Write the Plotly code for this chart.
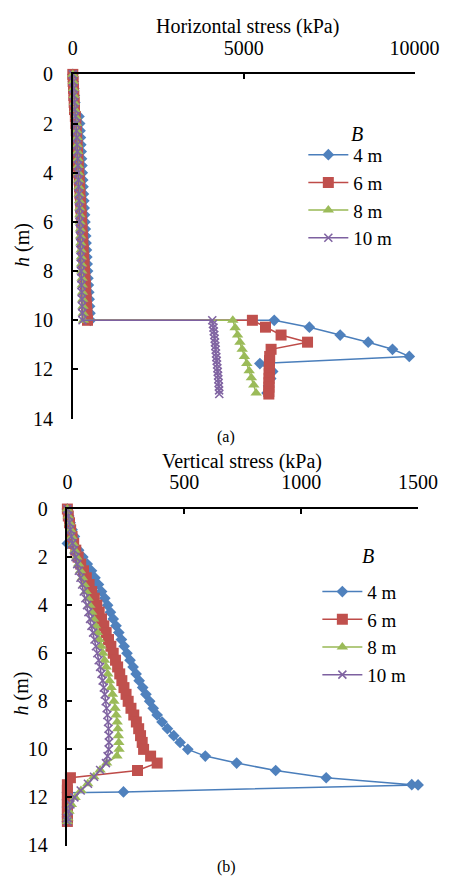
import plotly.graph_objects as go

FONT = "Liberation Serif"
W, H = 463, 888

SERIES = ["4 m", "6 m", "8 m", "10 m"]
LINE_COLORS = ["#4A7EBB", "#BE4B48", "#98B954", "#7D60A0"]
MARKER_COLORS = ["#4F81BD", "#C0504D", "#9BBB59", "#8064A2"]
SYMBOLS = ["diamond", "square", "triangle-up", "x-thin"]
SIZES = [9, 11, 10, 8]

# depth grid above the base (m)
DEPTH_UPPER = [0, 0.29, 0.57, 0.86, 1.14, 1.43, 1.71, 2.0, 2.29, 2.57, 2.86, 3.14,
               3.43, 3.71, 4.0, 4.29, 4.57, 4.86, 5.14, 5.43, 5.71, 6.0, 6.29, 6.57,
               6.86, 7.14, 7.43, 7.71, 8.0, 8.29, 8.57, 8.86, 9.14, 9.43, 9.71, 10.0]

# ---------- (a) Horizontal stress (kPa) ----------
HZ_UP_4 = [0, 15, 30, 45, 60, -100, 180, 200, 212, 223, 234, 245, 256, 267, 278, 289,
           300, 311, 322, 333, 344, 355, 366, 377, 388, 399, 410, 421, 432, 443, 455,
           467, 479, 491, 503, 515]
HZ_UP_6 = [0, 10, 20, 30, 40, 50, 75, 90, 102, 114, 126, 138, 150, 162, 174, 186, 198,
           210, 222, 234, 246, 258, 270, 282, 294, 306, 318, 330, 342, 354, 366, 378,
           390, 402, 414, 430]
HZ_UP_8 = [0, 12, 24, 36, 48, 60, 85, 105, 115, 124, 133, 142, 150, 158, 165, 172, 179,
           186, 193, 200, 207, 214, 221, 228, 235, 242, 249, 256, 263, 270, 277, 284,
           291, 298, 305, 312]
HZ_UP_10 = [0, 10, 20, 30, 40, 50, 75, 95, 108, 118, 128, 136, 144, 152, 159, 166, 173,
            180, 186, 192, 198, 204, 210, 216, 222, 228, 234, 240, 246, 251, 257, 262,
            268, 273, 279, 285]

HZ_LO_DEPTH_4 = [10.0, 10.28, 10.6, 10.89, 11.18, 11.47, 11.76, 12.08, 12.37, 12.66, 12.96]
HZ_LO_4 = [5893, 6921, 7822, 8642, 9353, 9844, 5473, 5847, 5790, 5730, 5683]
HZ_LO_DEPTH_6 = [10.0, 10.28, 10.6, 10.89, 11.18, 11.47, 11.64, 11.82, 12.0, 12.18,
                 12.36, 12.54, 12.72, 12.9, 13.0]
HZ_LO_6 = [5254, 5637, 6093, 6867, 5801, 5760, 5755, 5750, 5748, 5745, 5742, 5740,
           5738, 5735, 5735]
HZ_LO_DEPTH_8 = [10.0, 10.3, 10.6, 10.89, 11.18, 11.47, 11.76, 12.05, 12.34, 12.63, 12.96]
HZ_LO_8 = [4681, 4750, 4820, 4890, 4955, 5020, 5090, 5160, 5225, 5295, 5364]
HZ_LO_DEPTH_10 = [10.0, 10.15, 10.3, 10.45, 10.6, 10.75, 10.9, 11.05, 11.2, 11.35, 11.5,
                  11.65, 11.8, 11.95, 12.1, 12.25, 12.4, 12.55, 12.7, 12.85, 13.0]
HZ_LO_10 = [4080, 4100, 4115, 4125, 4140, 4150, 4160, 4170, 4180, 4190, 4200, 4210,
            4220, 4230, 4240, 4250, 4258, 4266, 4274, 4280, 4285]

# ---------- (b) Vertical stress (kPa) ----------
VT_UP_4 = [0, 6, 12, 20, 30, 0, 48, 66, 85, 103, 118, 133, 146, 160, 172, 184, 196, 208,
           220, 231, 243, 255, 268, 281, 294, 307, 322, 336, 352, 367, 384, 405, 428,
           455, 482, 515]
VT_UP_6 = [0, 4, 9, 14, 20, 27, 36, 46, 57, 69, 81, 93, 104, 115, 126, 136, 146, 156,
           166, 176, 186, 196, 206, 215, 224, 233, 242, 251, 260, 272, 284, 295, 305,
           313, 320, 326]
VT_UP_8 = [0, 4, 9, 14, 19, 25, 32, 40, 48, 56, 64, 72, 80, 88, 96, 104, 112, 120, 128,
           136, 144, 152, 159, 166, 173, 180, 187, 193, 199, 204, 209, 213, 216, 218,
           220, 221]
VT_UP_10 = [0, 4, 8, 12, 17, 22, 28, 35, 42, 49, 56, 63, 70, 77, 84, 90, 97, 103, 110,
            116, 122, 128, 134, 140, 146, 151, 156, 160, 164, 168, 171, 174, 176, 178,
            178, 177]

VT_LO_DEPTH_4 = [10.28, 10.57, 10.88, 11.18, 11.47, 11.48, 11.77, 11.8, 12.1, 12.4, 12.7, 13.0]
VT_LO_4 = [590, 724, 891, 1107, 1473, 1500, 240, 0, 0, 0, 0, 0]
VT_LO_DEPTH_6 = [10.28, 10.57, 10.88, 11.18, 11.47, 11.7, 11.93, 12.16, 12.39, 12.62,
                 12.85, 13.0]
VT_LO_6 = [356, 384, 300, 13, 0, 0, 0, 0, 0, 0, 0, 0]
VT_LO_DEPTH_8 = [10.28, 10.57, 10.86, 11.14, 11.43, 11.71, 12.0, 12.29, 12.57, 12.86, 13.0]
VT_LO_8 = [212, 168, 140, 113, 87, 58, 33, 17, 7, 2, 0]
VT_LO_DEPTH_10 = [10.28, 10.57, 10.86, 11.14, 11.43, 11.71, 12.0, 12.29, 12.57, 12.86, 13.0]
VT_LO_10 = [172, 165, 140, 114, 88, 57, 30, 13, 5, 0, 0]

HZ = [(HZ_UP_4, HZ_LO_DEPTH_4, HZ_LO_4), (HZ_UP_6, HZ_LO_DEPTH_6, HZ_LO_6),
      (HZ_UP_8, HZ_LO_DEPTH_8, HZ_LO_8), (HZ_UP_10, HZ_LO_DEPTH_10, HZ_LO_10)]
VT = [(VT_UP_4, VT_LO_DEPTH_4, VT_LO_4), (VT_UP_6, VT_LO_DEPTH_6, VT_LO_6),
      (VT_UP_8, VT_LO_DEPTH_8, VT_LO_8), (VT_UP_10, VT_LO_DEPTH_10, VT_LO_10)]


def px(x):
    return x / W


def py(y):
    return 1 - y / H


fig = go.Figure()

for data, xa, ya, leg in [(HZ, "x", "y", "legend"), (VT, "x2", "y2", "legend2")]:
    for i, (up, ldep, lo) in enumerate(data):
        mk = dict(symbol=SYMBOLS[i], size=SIZES[i], color=MARKER_COLORS[i])
        if SYMBOLS[i] == "x-thin":
            mk["line"] = dict(color=MARKER_COLORS[i], width=1.6)
        else:
            mk["line"] = dict(width=0)
        fig.add_trace(go.Scatter(
            x=up + lo, y=DEPTH_UPPER + ldep, mode="lines+markers", name=SERIES[i],
            line=dict(color=LINE_COLORS[i], width=1.5), marker=mk,
            xaxis=xa, yaxis=ya, legend=leg, cliponaxis=False,
        ))

axis_common = dict(showline=True, linecolor="black", linewidth=1.5, ticks="inside",
                   ticklen=5, tickcolor="black", tickwidth=1.5, showgrid=False,
                   zeroline=False, tickformat="d",
                   tickfont=dict(family=FONT, size=20, color="black"))

fig.update_layout(
    width=W, height=H, margin=dict(l=0, r=0, t=0, b=0),
    paper_bgcolor="white", plot_bgcolor="white",
    font=dict(family=FONT, size=20, color="black"),
    xaxis=dict(domain=[px(72.5), px(438)], anchor="y", side="top", range=[0, 10000],
               tickvals=[0, 5000, 10000], ticklabelstandoff=10, **axis_common),
    yaxis=dict(domain=[py(418), py(65)], anchor="x", range=[14, 0],
               tickvals=[0, 2, 4, 6, 8, 10, 12, 14], ticklabelstandoff=14, **axis_common),
    xaxis2=dict(domain=[px(66.7), px(441.7)], anchor="y2", side="top", range=[0, 1500],
                tickvals=[0, 500, 1000, 1500], ticklabelstandoff=10, **axis_common),
    yaxis2=dict(domain=[py(855.7), py(510.7)], anchor="x2", range=[14, 0],
                tickvals=[0, 2, 4, 6, 8, 10, 12, 14], ticklabelstandoff=14, **axis_common),
    legend=dict(x=px(319), y=py(128), xanchor="left", yanchor="top", itemwidth=40,
                bgcolor="rgba(0,0,0,0)", font=dict(family=FONT, size=19)),
    legend2=dict(x=px(334), y=py(576), xanchor="left", yanchor="top", itemwidth=40,
                 bgcolor="rgba(0,0,0,0)", font=dict(family=FONT, size=19)),
    showlegend=True,
)

ann = [
    dict(text="Horizontal stress (kPa)", x=px(259), y=py(16), size=20, angle=0),
    dict(text="Vertical stress (kPa)", x=px(253), y=py(462), size=20, angle=0),
    dict(text="<i>h</i> (m)", x=px(18), y=py(240), size=20, angle=-90),
    dict(text="<i>h</i> (m)", x=px(18), y=py(700), size=20, angle=-90),
    dict(text="(a)", x=px(236), y=py(437), size=16, angle=0),
    dict(text="(b)", x=px(237), y=py(878), size=16, angle=0),
    dict(text="<i>B</i>", x=px(376), y=py(126), size=20, angle=0),
    dict(text="<i>B</i>", x=px(388), y=py(559), size=20, angle=0),
]
for a in ann:
    fig.add_annotation(text=a["text"], x=a["x"], y=a["y"], xref="paper", yref="paper",
                       xanchor="center", yanchor="middle", showarrow=False,
                       textangle=a["angle"],
                       font=dict(family=FONT, size=a["size"], color="black"))

fig.write_html("out.html")
